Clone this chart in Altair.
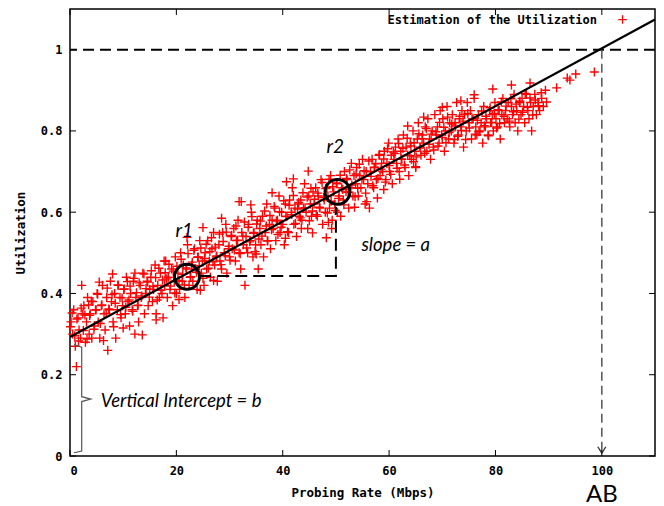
import altair as alt
import pandas as pd

# ---- data (two passes over the cloud, plus the strays) ----
probing_rate = [
    0.2, 0.5, 0.7, 1.0, 1.2, 1.5, 1.7, 2.0, 2.2, 2.4,
    2.6, 2.9, 3.1, 3.3, 3.6, 3.8, 4.1, 4.3, 4.6, 4.9,
    5.1, 5.3, 5.6, 5.9, 6.1, 6.4, 6.6, 6.9, 7.1, 7.4,
    7.6, 7.8, 8.1, 8.4, 8.6, 8.9, 9.1, 9.4, 9.6, 9.9,
    10.1, 10.4, 10.6, 10.9, 11.2, 11.4, 11.7, 11.9, 12.2, 12.4,
    12.7, 12.9, 13.2, 13.4, 13.7, 14.0, 14.2, 14.5, 14.7, 15.0,
    15.2, 15.5, 15.7, 16.0, 16.2, 16.5, 16.8, 17.0, 17.3, 17.5,
    17.8, 18.0, 18.3, 18.5, 18.8, 19.1, 19.3, 19.6, 19.8, 20.0,
    20.3, 20.6, 20.8, 21.1, 21.3, 21.6, 21.9, 22.1, 22.4, 22.6,
    22.9, 23.1, 23.4, 23.6, 23.9, 24.1, 24.4, 24.7, 24.9, 25.2,
    25.4, 25.7, 25.9, 26.2, 26.4, 26.7, 27.0, 27.2, 27.5, 27.7,
    28.0, 28.2, 28.5, 28.7, 29.0, 29.3, 29.5, 29.8, 30.0, 30.3,
    30.5, 30.8, 31.1, 31.3, 31.6, 31.8, 32.1, 32.3, 32.6, 32.9,
    33.1, 33.4, 33.6, 33.9, 34.1, 34.4, 34.6, 34.9, 35.2, 35.4,
    35.7, 35.9, 36.2, 36.4, 36.7, 37.0, 37.2, 37.5, 37.7, 38.0,
    38.2, 38.5, 38.7, 39.0, 39.3, 39.5, 39.8, 40.0, 40.3, 40.5,
    40.8, 41.1, 41.3, 41.6, 41.8, 42.1, 42.3, 42.6, 42.9, 43.1,
    43.4, 43.6, 43.9, 44.1, 44.4, 44.7, 44.9, 45.2, 45.4, 45.7,
    45.9, 46.2, 46.5, 46.7, 47.0, 47.2, 47.5, 47.8, 48.0, 48.3,
    48.5, 48.8, 49.0, 49.3, 49.6, 49.8, 50.1, 50.3, 50.6, 50.9, 49.2, 48.6,
    51.1, 51.4, 51.6, 51.9, 52.1, 52.4, 52.7, 52.9, 53.2, 53.4,
    53.7, 53.9, 54.2, 54.5, 54.7, 55.0, 55.2, 55.5, 55.7, 56.0,
    56.3, 56.5, 56.8, 57.1, 57.3, 57.6, 57.8, 58.1, 58.3, 58.6,
    58.8, 59.1, 59.4, 59.6, 59.9, 60.1, 60.4, 60.6, 60.9, 61.2,
    61.4, 61.7, 61.9, 62.2, 62.4, 62.7, 63.0, 63.2, 63.5, 63.7,
    64.0, 64.2, 64.5, 64.8, 65.0, 65.3, 65.5, 65.8, 66.0, 66.3,
    66.5, 66.8, 67.1, 67.3, 67.6, 67.8, 68.1, 68.3, 68.6, 68.9,
    69.1, 69.4, 69.6, 69.9, 70.1, 70.4, 70.6, 70.9, 71.2, 71.4,
    71.7, 71.9, 72.2, 72.4, 72.7, 73.0, 73.2, 73.5, 73.7, 74.0,
    74.2, 74.5, 74.7, 75.0, 75.3, 75.5, 75.8, 76.0, 76.3, 76.5,
    76.8, 77.1, 77.3, 77.6, 77.8, 78.1, 78.3, 78.6, 78.9, 79.1,
    79.4, 79.6, 79.9, 80.1, 80.4, 80.7, 80.9, 81.2, 81.4, 81.7,
    81.9, 82.2, 82.4, 82.7, 83.0, 83.2, 83.5, 83.7, 84.0, 84.2,
    84.5, 84.8, 85.0, 85.3, 85.5, 85.8, 86.1, 86.3, 86.6, 86.8,
    87.1, 87.4, 87.7, 88.0, 88.3, 88.7, 89.0, 89.4,
    93.5, 94.0, 95.1, 98.6, 91.5,
]
utilization = [
    0.33, 0.30, 0.36, 0.27, 0.22, 0.34, 0.31, 0.29, 0.42, 0.35,
    0.37, 0.28, 0.33, 0.39, 0.30, 0.35, 0.29, 0.38, 0.32, 0.36,
    0.40, 0.33, 0.29, 0.37, 0.42, 0.35, 0.31, 0.39, 0.26, 0.36,
    0.43, 0.38, 0.33, 0.40, 0.29, 0.36, 0.42, 0.39, 0.34, 0.37,
    0.41, 0.35, 0.44, 0.38, 0.32, 0.40, 0.36, 0.43, 0.30, 0.39,
    0.37, 0.33, 0.42, 0.39, 0.45, 0.35, 0.40, 0.43, 0.37, 0.41,
    0.44, 0.38, 0.41, 0.47, 0.35, 0.42, 0.39, 0.45, 0.40, 0.34,
    0.42, 0.48, 0.39, 0.44, 0.41, 0.46, 0.37, 0.43, 0.49, 0.40,
    0.45, 0.41, 0.50, 0.43, 0.47, 0.39, 0.46, 0.52, 0.42, 0.44,
    0.47, 0.43, 0.51, 0.46, 0.41, 0.49, 0.53, 0.45, 0.48, 0.42,
    0.50, 0.46, 0.53, 0.48, 0.44, 0.51, 0.55, 0.47, 0.49, 0.43,
    0.52, 0.48, 0.46, 0.55, 0.50, 0.57, 0.45, 0.51, 0.49, 0.54,
    0.51, 0.56, 0.48, 0.53, 0.58, 0.50, 0.46, 0.55, 0.52, 0.42,
    0.54, 0.50, 0.57, 0.53, 0.60, 0.49, 0.55, 0.52, 0.58, 0.46,
    0.56, 0.52, 0.59, 0.49, 0.55, 0.62, 0.53, 0.57, 0.51, 0.58,
    0.56, 0.61, 0.53, 0.58, 0.64, 0.55, 0.60, 0.57, 0.52, 0.62,
    0.59, 0.55, 0.63, 0.60, 0.66, 0.57, 0.61, 0.54, 0.62, 0.59,
    0.63, 0.58, 0.61, 0.67, 0.60, 0.56, 0.64, 0.62, 0.59, 0.65,
    0.62, 0.66, 0.59, 0.64, 0.61, 0.68, 0.57, 0.63, 0.60, 0.66,
    0.64, 0.61, 0.69, 0.58, 0.65, 0.62, 0.67, 0.60, 0.64, 0.59, 0.56, 0.575,
    0.66, 0.63, 0.70, 0.65, 0.68, 0.61, 0.66, 0.72, 0.64, 0.69,
    0.67, 0.71, 0.64, 0.69, 0.66, 0.73, 0.68, 0.62, 0.70, 0.67,
    0.61, 0.70, 0.73, 0.66, 0.71, 0.68, 0.635, 0.74, 0.69, 0.72,
    0.70, 0.75, 0.68, 0.72, 0.77, 0.70, 0.74, 0.67, 0.73, 0.76,
    0.72, 0.78, 0.70, 0.75, 0.73, 0.79, 0.71, 0.76, 0.74, 0.69,
    0.77, 0.73, 0.80, 0.75, 0.71, 0.78, 0.82, 0.76, 0.74, 0.79,
    0.77, 0.81, 0.75, 0.83, 0.78, 0.73, 0.80, 0.76, 0.84, 0.79,
    0.81, 0.77, 0.85, 0.79, 0.83, 0.75, 0.80, 0.86, 0.78, 0.82,
    0.80, 0.84, 0.77, 0.82, 0.87, 0.79, 0.83, 0.81, 0.85, 0.76,
    0.84, 0.80, 0.87, 0.82, 0.85, 0.78, 0.83, 0.88, 0.81, 0.79,
    0.84, 0.80, 0.82, 0.77, 0.86, 0.81, 0.83, 0.79, 0.85, 0.82,
    0.84, 0.80, 0.87, 0.83, 0.81, 0.85, 0.78, 0.84, 0.88, 0.82,
    0.85, 0.83, 0.87, 0.81, 0.86, 0.84, 0.89, 0.82, 0.85, 0.80,
    0.87, 0.84, 0.88, 0.86, 0.82, 0.89, 0.85, 0.83, 0.87, 0.80,
    0.86, 0.89, 0.84, 0.87, 0.85, 0.88, 0.86, 0.90,
    0.93, 0.925, 0.94, 0.945, 0.906,
]
probing_rate_2 = [
    0.1, 0.4, 0.9, 1.3, 1.6, 2.1, 2.5, 2.8, 3.2, 3.5,
    3.7, 4.0, 4.5, 4.8, 5.2, 5.7, 6.0, 6.3, 6.8, 7.0,
    7.3, 7.9, 8.2, 8.5, 9.0, 9.5, 9.8, 10.2, 10.5, 10.8,
    11.1, 11.3, 11.8, 12.0, 12.5, 12.8, 13.0, 13.5, 13.9, 14.3,
    14.6, 14.9, 15.3, 15.6, 16.1, 16.4, 16.7, 17.1, 17.4, 17.9,
    18.2, 18.6, 18.9, 19.4, 19.7, 20.1, 20.5, 20.9, 21.2, 21.5,
    21.8, 22.2, 22.7, 23.0, 23.3, 23.8, 24.0, 24.3, 24.6, 25.0,
    25.3, 25.6, 26.0, 26.3, 26.6, 26.9, 27.3, 27.6, 28.1, 28.4,
    28.8, 29.2, 29.4, 29.9, 30.1, 30.4, 30.9, 31.2, 31.5, 32.0,
    32.5, 32.8, 33.2, 33.5, 33.8, 34.2, 34.5, 34.8, 35.1, 35.5,
    35.8, 36.1, 36.6, 36.9, 37.1, 37.6, 37.9, 38.4, 38.8, 39.1,
    39.4, 39.7, 40.2, 40.6, 40.9, 41.2, 41.7, 42.0, 42.4, 42.8,
    43.0, 43.3, 43.8, 44.2, 44.6, 45.0, 45.3, 45.6, 46.0, 46.3,
    46.6, 46.9, 47.4, 47.7, 48.1, 48.4, 48.7, 49.1, 49.4, 49.9,
    50.2, 50.5, 50.8, 51.3, 51.5, 52.0, 52.3, 52.6, 53.0, 53.6,
    53.8, 54.1, 54.4, 54.9, 55.3, 55.6, 56.2, 56.6, 56.9, 57.2,
    57.5, 57.9, 58.2, 58.5, 59.0, 59.3, 59.7, 60.0, 60.3, 60.8,
    61.1, 61.5, 61.8, 62.3, 62.6, 62.9, 63.4, 63.9, 64.1, 64.6,
    64.7, 65.1, 65.6, 65.9, 66.2, 66.7, 67.0, 67.5, 67.9, 68.4,
    68.8, 69.2, 69.5, 70.0, 70.3, 70.7, 71.0, 71.3, 71.8, 72.3,
    72.5, 72.9, 73.3, 73.6, 73.9, 74.4, 74.8, 75.1, 75.6, 76.2,
    76.6, 76.9, 77.4, 77.9, 78.2, 78.7, 79.0, 79.3, 79.8, 80.2,
    80.5, 80.8, 81.1, 81.6, 82.0, 82.6, 82.9, 83.4, 83.9, 84.4,
    84.6, 85.1, 85.6, 86.0, 86.5, 87.0, 87.5, 88.1, 88.6, 89.6,
]
utilization_2 = [
    0.318, 0.352, 0.296, 0.337, 0.283, 0.364, 0.309, 0.347, 0.288, 0.372,
    0.346, 0.381, 0.312, 0.359, 0.398, 0.326, 0.372, 0.284, 0.351, 0.413,
    0.362, 0.397, 0.318, 0.376, 0.421, 0.348, 0.389, 0.411, 0.366, 0.429,
    0.384, 0.418, 0.356, 0.437, 0.402, 0.371, 0.426, 0.394, 0.448, 0.412,
    0.428, 0.391, 0.456, 0.417, 0.439, 0.384, 0.462, 0.408, 0.433, 0.451,
    0.436, 0.472, 0.418, 0.455, 0.401, 0.467, 0.432, 0.484, 0.447, 0.421,
    0.463, 0.498, 0.441, 0.477, 0.506, 0.452, 0.489, 0.468, 0.512, 0.437,
    0.486, 0.521, 0.462, 0.503, 0.537, 0.478, 0.514, 0.492, 0.546, 0.471,
    0.528, 0.493, 0.551, 0.516, 0.482, 0.543, 0.507, 0.566, 0.531, 0.498,
    0.541, 0.576, 0.512, 0.563, 0.527, 0.589, 0.548, 0.503, 0.571, 0.534,
    0.578, 0.541, 0.603, 0.566, 0.529, 0.592, 0.557, 0.614, 0.578, 0.545,
    0.601, 0.563, 0.628, 0.589, 0.552, 0.617, 0.594, 0.641, 0.572, 0.608,
    0.624, 0.586, 0.648, 0.611, 0.637, 0.579, 0.659, 0.603, 0.632, 0.594,
    0.647, 0.612, 0.673, 0.636, 0.658, 0.598, 0.681, 0.627, 0.663, 0.604,
    0.672, 0.634, 0.691, 0.656, 0.618, 0.683, 0.649, 0.704, 0.667, 0.638,
    0.694, 0.659, 0.718, 0.681, 0.702, 0.647, 0.726, 0.688, 0.665, 0.711,
    0.719, 0.683, 0.742, 0.706, 0.731, 0.674, 0.756, 0.715, 0.693, 0.748,
    0.744, 0.708, 0.769, 0.731, 0.757, 0.716, 0.782, 0.739, 0.763, 0.724,
    0.771, 0.736, 0.793, 0.758, 0.781, 0.745, 0.806, 0.767, 0.792, 0.753,
    0.798, 0.763, 0.821, 0.784, 0.809, 0.771, 0.834, 0.796, 0.817, 0.779,
    0.812, 0.787, 0.836, 0.801, 0.824, 0.779, 0.843, 0.807, 0.829, 0.792,
    0.826, 0.798, 0.849, 0.813, 0.836, 0.788, 0.857, 0.821, 0.843, 0.807,
    0.852, 0.818, 0.871, 0.836, 0.861, 0.824, 0.879, 0.847, 0.866, 0.829,
    0.873, 0.846, 0.892, 0.858, 0.881, 0.839, 0.876, 0.862, 0.894, 0.871,
]
stray_rate = [
    12.2, 17.7, 16.2, 13.6, 10.0, 8.0, 5.5, 20.5, 24.5, 27.0,
    22.0, 25.0, 28.5, 31.8, 32.2, 34.0, 38.0, 40.7, 42.0, 44.8,
    35.0, 40.5, 43.5, 45.6, 48.2, 53.5, 55.8, 59.0, 62.0, 65.0,
    63.5, 66.5, 70.0, 73.5, 76.0, 79.5, 83.0, 86.5,
]
stray_util = [
    0.450, 0.480, 0.335, 0.298, 0.315, 0.448, 0.428, 0.385, 0.408, 0.432,
    0.538, 0.562, 0.585, 0.626, 0.626, 0.618, 0.648, 0.675, 0.682, 0.701,
    0.497, 0.536, 0.560, 0.549, 0.537, 0.612, 0.626, 0.656, 0.681, 0.712,
    0.812, 0.834, 0.858, 0.874, 0.889, 0.903, 0.913, 0.918,
]

fit_rate = [0, 110]
fit_util = [0.293, 1.074]

circle_rate = [22.0, 50.3]
circle_util = [0.441, 0.650]

slope_rate = [24.3, 50.0, 50.0]
slope_util = [0.443, 0.443, 0.613]

brace_rate = [0.75, 2.2, 2.2, 3.9, 2.2, 2.2, 0.75]
brace_util = [0.274, 0.268, 0.146, 0.140, 0.134, 0.012, 0.008]

x_ticks = [0, 20, 40, 60, 80, 100]
y_ticks = [0, 0.2, 0.4, 0.6, 0.8, 1.0]

# ---- tables ----
scatter_df = pd.DataFrame({"rate": probing_rate + probing_rate_2 + stray_rate,
                           "util": utilization + utilization_2 + stray_util})
fit_df = pd.DataFrame({"rate": fit_rate, "util": fit_util})
circ_df = pd.DataFrame({"rate": circle_rate, "util": circle_util})
slope_df = pd.DataFrame({"rate": slope_rate, "util": slope_util, "o": list(range(len(slope_rate)))})
brace_df = pd.DataFrame({"rate": brace_rate, "util": brace_util, "o": list(range(len(brace_rate)))})
xt_df = pd.DataFrame({"t": x_ticks})
yt_df = pd.DataFrame({"t": y_ticks})

W, H = 585, 447
MONO = "DejaVu Sans Mono"
ANNO = "Lato"
PLUS = "M-1,0L1,0M0,-1L0,1"

xs = alt.Scale(domain=[0, 110], nice=False, zero=False)
ys_ = alt.Scale(domain=[0, 1.1], nice=False, zero=False)

X = alt.X("rate:Q", scale=xs, axis=alt.Axis(
    values=x_ticks, format="~r", title="Probing Rate (Mbps)", grid=False, ticks=False, tickSize=0,
    domain=False, labelFont=MONO, labelFontWeight="bold", labelFontSize=12, labelColor="black",
    labelPadding=9, titleFont=MONO, titleFontWeight="bold", titleFontSize=12.5, titleColor="black",
    titleBaseline="alphabetic", titleY=40))
Y = alt.Y("util:Q", scale=ys_, axis=alt.Axis(
    values=y_ticks, format="~r", title="Utilization", grid=False, ticks=False, tickSize=0,
    domain=False, labelFont=MONO, labelFontWeight="bold", labelFontSize=12, labelColor="black",
    labelPadding=8, titleFont=MONO, titleFontWeight="bold", titleFontSize=12.5, titleColor="black",
    titleAngle=270, titleBaseline="middle", titleX=-50, titleY=H / 2))

scatter = alt.Chart(scatter_df).mark_point(
    shape=PLUS, size=81, filled=False, color="#ff0000", strokeWidth=1.4, opacity=1
).encode(x=X, y=Y)

fit = alt.Chart(fit_df).mark_line(color="black", strokeWidth=2.2).encode(
    x=alt.X("rate:Q", scale=xs), y=alt.Y("util:Q", scale=ys_))

hline = alt.Chart(pd.DataFrame({"util": [1.0]})).mark_rule(
    color="black", strokeWidth=2, strokeDash=[11, 6]).encode(y=alt.Y("util:Q", scale=ys_))

vline = alt.Chart(pd.DataFrame({"rate": [100.0], "util": [1.0], "u2": [0.01]})).mark_rule(
    color="#555555", strokeWidth=1.5, strokeDash=[9, 5]).encode(
    x=alt.X("rate:Q", scale=xs), y=alt.Y("util:Q", scale=ys_), y2="u2:Q")

arrow = alt.Chart(pd.DataFrame({"rate": [100.0], "util": [0.007]})).mark_point(
    shape="M-1,-1.6L0,0L1,-1.6", size=64, filled=False, color="#333333", strokeWidth=1.3, opacity=1
).encode(x=alt.X("rate:Q", scale=xs), y=alt.Y("util:Q", scale=ys_))

circles = alt.Chart(circ_df).mark_point(
    shape="circle", size=620, filled=False, color="black", strokeWidth=3, opacity=1
).encode(x=alt.X("rate:Q", scale=xs), y=alt.Y("util:Q", scale=ys_))

slope = alt.Chart(slope_df).mark_line(color="black", strokeWidth=2, strokeDash=[12, 6]).encode(
    x=alt.X("rate:Q", scale=xs), y=alt.Y("util:Q", scale=ys_), order="o:Q")

brace = alt.Chart(brace_df).mark_line(color="#555555", strokeWidth=1.2).encode(
    x=alt.X("rate:Q", scale=xs), y=alt.Y("util:Q", scale=ys_), order="o:Q")

labels_df = pd.DataFrame({
    "rate": [21.5, 49.9, 54.8, 5.8],
    "util": [0.539, 0.746, 0.505, 0.121],
    "txt": ["r1", "r2", "slope = a", "Vertical Intercept = b"],
})
anno_c = alt.Chart(labels_df.iloc[:2]).mark_text(
    font=ANNO, fontStyle="italic", fontSize=19, align="center", baseline="alphabetic", color="black"
).encode(x=alt.X("rate:Q", scale=xs), y=alt.Y("util:Q", scale=ys_), text="txt:N")
anno_l = alt.Chart(labels_df.iloc[2:]).mark_text(
    font=ANNO, fontStyle="italic", fontSize=18.5, align="left", baseline="alphabetic", color="black"
).encode(x=alt.X("rate:Q", scale=xs), y=alt.Y("util:Q", scale=ys_), text="txt:N")

ab = alt.Chart(pd.DataFrame({"rate": [100.0], "util": [-0.113], "txt": ["AB"]})).mark_text(
    font=ANNO, fontSize=24, align="center", baseline="alphabetic", color="black"
).encode(x=alt.X("rate:Q", scale=xs), y=alt.Y("util:Q", scale=ys_), text="txt:N")

legend_txt = alt.Chart(pd.DataFrame({"rate": [99.1], "util": [1.064], "txt": ["Estimation of the Utilization"]})).mark_text(
    font=MONO, fontWeight="bold", fontSize=12, align="right", baseline="alphabetic", color="black"
).encode(x=alt.X("rate:Q", scale=xs), y=alt.Y("util:Q", scale=ys_), text="txt:N")
legend_sym = alt.Chart(pd.DataFrame({"rate": [103.9], "util": [1.074]})).mark_point(
    shape=PLUS, size=72, filled=False, color="#ff0000", strokeWidth=1.3, opacity=1
).encode(x=alt.X("rate:Q", scale=xs), y=alt.Y("util:Q", scale=ys_))

tick_b = alt.Chart(xt_df).mark_rule(color="black", strokeWidth=1).encode(
    x=alt.X("t:Q", scale=xs), y=alt.value(H), y2=alt.value(H - 6))
tick_t = alt.Chart(xt_df).mark_rule(color="black", strokeWidth=1).encode(
    x=alt.X("t:Q", scale=xs), y=alt.value(0), y2=alt.value(6))
tick_l = alt.Chart(yt_df).mark_rule(color="black", strokeWidth=1).encode(
    y=alt.Y("t:Q", scale=ys_), x=alt.value(0), x2=alt.value(6))
tick_r = alt.Chart(yt_df).mark_rule(color="black", strokeWidth=1).encode(
    y=alt.Y("t:Q", scale=ys_), x=alt.value(W), x2=alt.value(W - 6))

chart = alt.layer(
    scatter, hline, vline, arrow, fit, slope, circles, brace, anno_c, anno_l, ab,
    legend_txt, legend_sym, tick_b, tick_t, tick_l, tick_r
).properties(
    width=W, height=H,
    autosize=alt.AutoSizeParams(type="none"),
    padding={"left": 70, "top": 9, "right": 9, "bottom": 50},
    background="white",
).configure_view(stroke="black", strokeWidth=1.5)

chart.save("out.html", embed_options={"renderer": "svg", "actions": False})
